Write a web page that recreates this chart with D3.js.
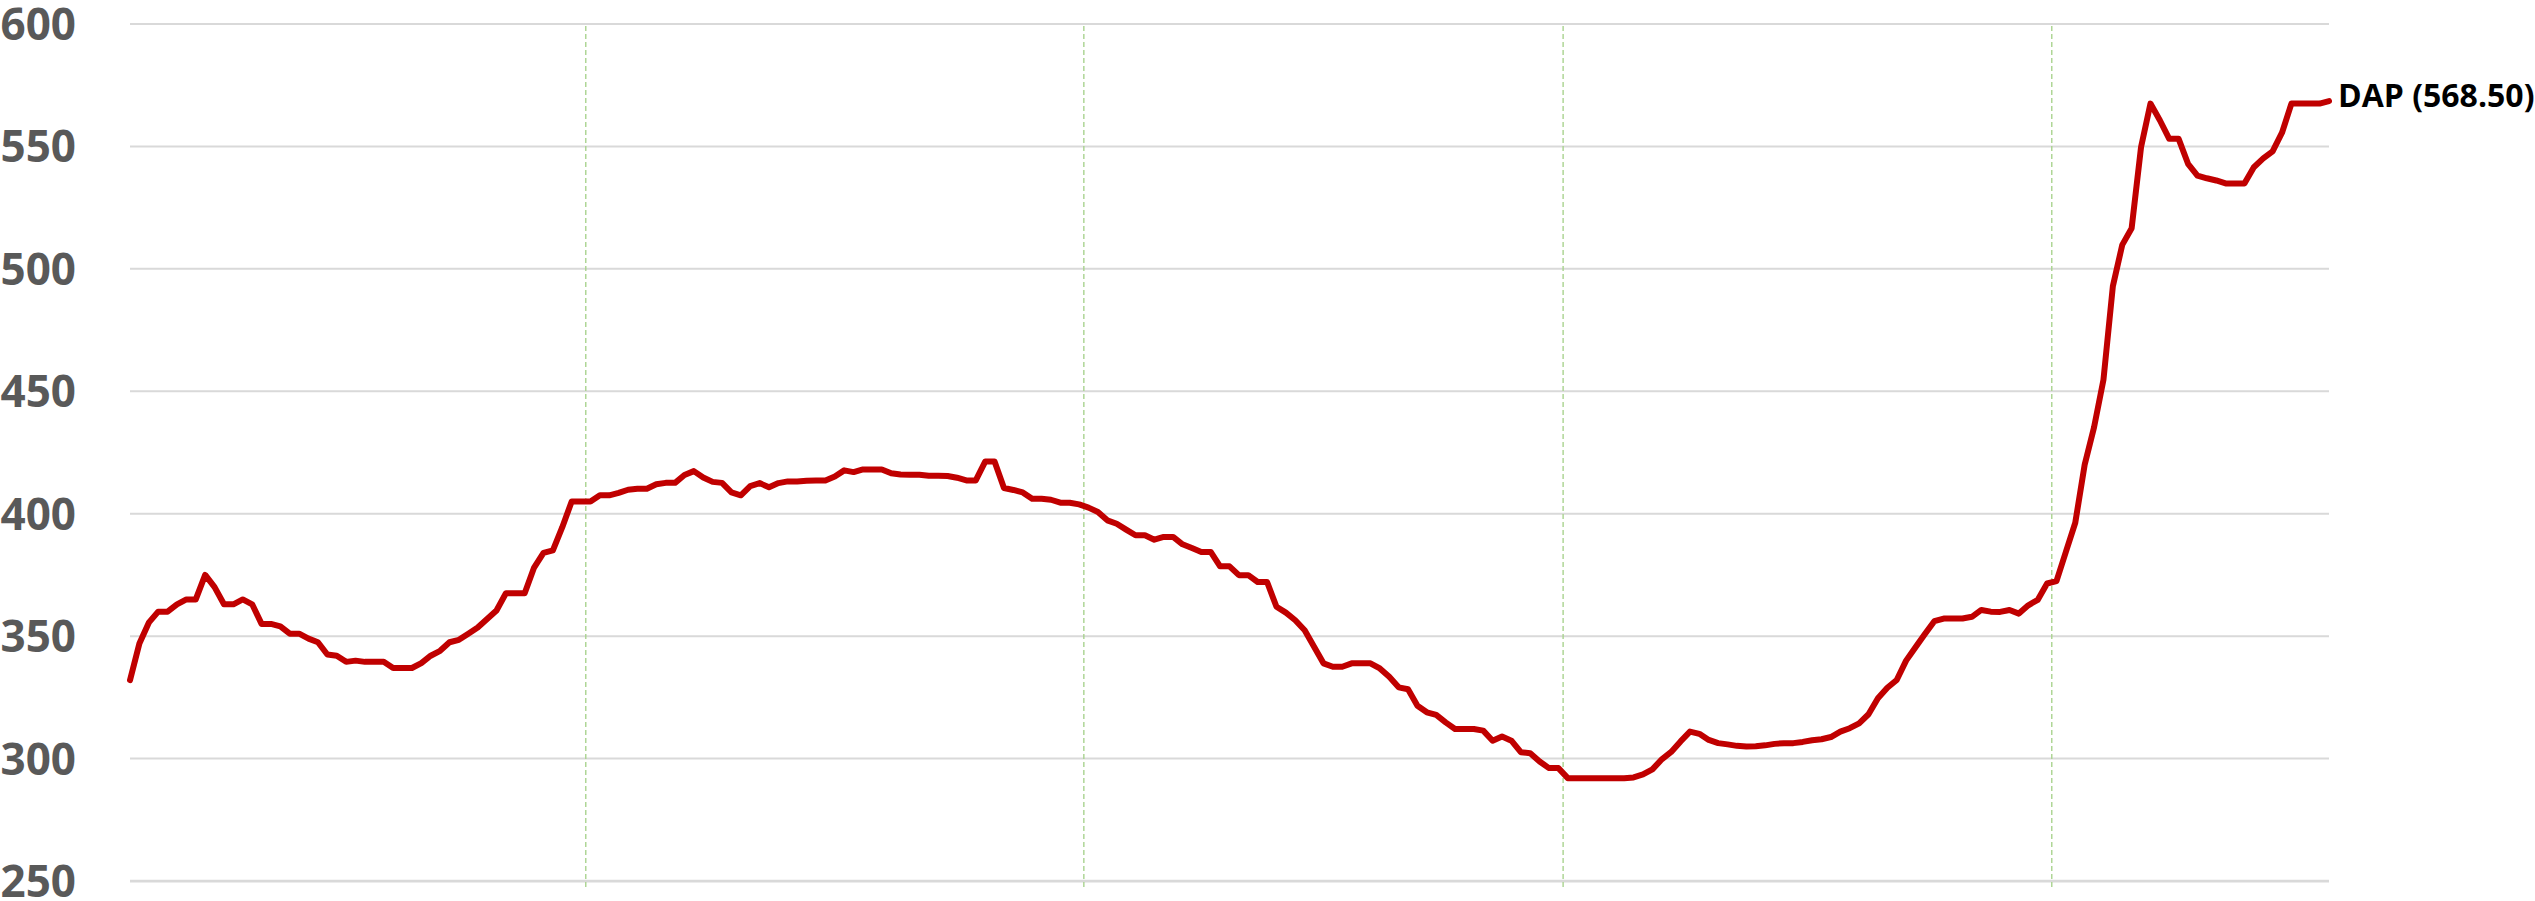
<!DOCTYPE html>
<html>
<head>
<meta charset="utf-8">
<script src="https://cdn.jsdelivr.net/npm/d3@7"></script>
<style>
  body { margin: 0; background: #fff; }
  svg { display: block; }
</style>
</head>
<body>
<svg id="chart"></svg>
<script>
const width = 2535;
const height = 901;

// weekly DAP price
const seriesName = "DAP";
const weeklyPrice = [
    332, 347, 355.5, 360, 360, 363, 365, 365, 375, 370,
    363, 363, 365, 363, 355, 355, 354, 351, 351, 349,
    347.5, 342.5, 342, 339.5, 340, 339.5, 339.5, 339.5, 337, 337,
    337, 339, 342, 344, 347.5, 348.5, 351, 353.5, 357, 360.5,
    367.5, 367.5, 367.5, 378, 384, 385, 394.5, 405, 405, 405,
    407.5, 407.5, 408.5, 409.8, 410.2, 410.2, 412, 412.6, 412.6, 415.8,
    417.4, 414.8, 413, 412.6, 408.7, 407.5, 411.3, 412.5, 410.8, 412.5,
    413.2, 413.2, 413.5, 413.6, 413.6, 415.2, 417.7, 417, 418.1, 418.1,
    418.1, 416.5, 416, 415.9, 415.9, 415.5, 415.5, 415.4, 414.7, 413.6,
    413.6, 421.3, 421.3, 410.5, 409.7, 408.7, 406.1, 406.1, 405.7, 404.5,
    404.5, 403.8, 402.5, 400.7, 397.3, 395.9, 393.5, 391.2, 391.2, 389.4,
    390.5, 390.5, 387.5, 386, 384.4, 384.4, 378.5, 378.5, 374.9, 374.9,
    372.1, 372.1, 362, 359.6, 356.5, 352.4, 345.7, 338.9, 337.5, 337.5,
    338.9, 338.9, 338.9, 336.8, 333.4, 329.1, 328.3, 321.6, 318.9, 317.8,
    314.8, 312.1, 312.1, 312.1, 311.4, 307.3, 309, 307.3, 302.6, 302.2,
    298.8, 296.1, 296.1, 292, 292, 292, 292, 292, 292, 292,
    292.3, 293.5, 295.6, 299.7, 302.7, 307, 311, 310.1, 307.6, 306.3,
    305.8, 305.2, 304.9, 305, 305.4, 306, 306.3, 306.3, 306.8, 307.5,
    307.9, 308.8, 311, 312.4, 314.4, 318.1, 324.6, 328.9, 332.1, 340,
    345.5, 350.9, 356.1, 357.2, 357.2, 357.2, 357.9, 360.7, 360, 359.9,
    360.7, 359.2, 362.6, 364.8, 371.5, 372.5, 384.4, 396.3, 420, 435.3,
    454.7, 492.9, 509.8, 516.6, 549.7, 567.5, 560.7, 553.1, 553.1, 542.9,
    538.1, 537, 536.1, 534.9, 534.9, 534.9, 541.5, 545.1, 548, 555.6,
    567.5, 567.5, 567.5, 567.5, 568.5
];

// first week of each new year (index into weeklyPrice)
const yearStartWeek = [49, 102, 153, 205];
const yearLabels = [2018, 2019, 2020, 2021];

const yTicks = [250, 300, 350, 400, 450, 500, 550, 600];

const margin = { top: 24, right: 206, bottom: 20, left: 130 };

const svg = d3.select("#chart")
    .attr("width", width)
    .attr("height", height)
    .style("font-family", "'Open Sans', 'Noto Sans', sans-serif");

const x = d3.scaleLinear()
    .domain([0, weeklyPrice.length - 1])
    .range([margin.left, width - margin.right]);

const y = d3.scaleLinear()
    .domain([250, 600])
    .range([height - margin.bottom, margin.top]);

// horizontal gridlines
svg.append("g")
    .selectAll("line")
    .data(yTicks)
    .join("line")
    .attr("x1", x.range()[0])
    .attr("x2", x.range()[1])
    .attr("y1", d => y(d))
    .attr("y2", d => y(d))
    .attr("stroke", "#d9d9d9")
    .attr("stroke-width", d => d === 250 ? 2.75 : 2);

// y tick labels (baseline set so the digits sit centred on the gridline)
svg.append("g")
    .selectAll("text")
    .data(yTicks)
    .join("text")
    .attr("x", 76)
    .attr("y", d => y(d) + 16)
    .attr("text-anchor", "end")
    .attr("font-size", 44)
    .attr("font-weight", "bold")
    .attr("fill", "#595959")
    .text(d => d);

// year separators
svg.append("g")
    .selectAll("line")
    .data(yearStartWeek)
    .join("line")
    .attr("class", d => "year-" + yearLabels[yearStartWeek.indexOf(d)])
    .attr("x1", d => x(d - 0.5))
    .attr("x2", d => x(d - 0.5))
    .attr("y1", y(600) + 2)
    .attr("y2", y(250) + 6)
    .attr("stroke", "#a9d38f")
    .attr("stroke-width", 1.4)
    .attr("stroke-dasharray", "5,3");

const line = d3.line()
    .x((d, i) => x(i))
    .y(d => y(d));

svg.append("path")
    .datum(weeklyPrice)
    .attr("d", line)
    .attr("fill", "none")
    .attr("stroke", "#c00000")
    .attr("stroke-width", 6)
    .attr("stroke-linejoin", "round")
    .attr("stroke-linecap", "round");

// end label
const last = weeklyPrice[weeklyPrice.length - 1];
svg.append("text")
    .attr("x", x(weeklyPrice.length - 1) + 9)
    .attr("y", y(last) + 6)
    .attr("font-size", 32)
    .attr("font-weight", "bold")
    .attr("fill", "#000")
    .text(`${seriesName} (${d3.format(".2f")(last)})`);
</script>
</body>
</html>
